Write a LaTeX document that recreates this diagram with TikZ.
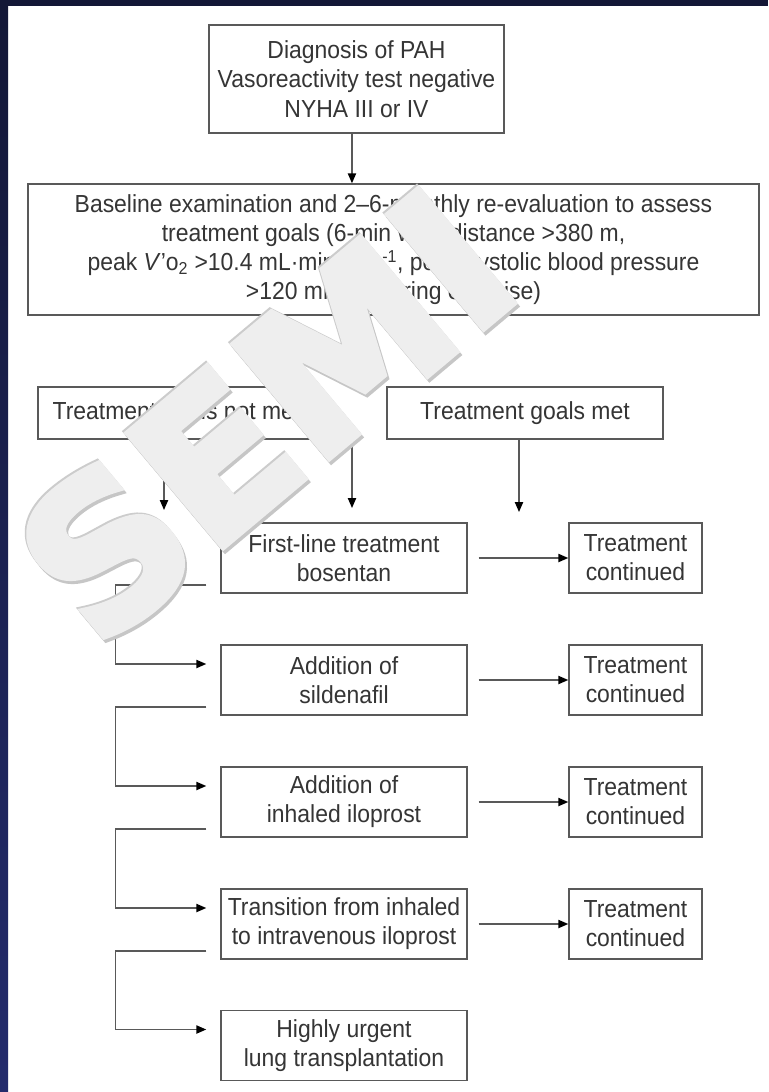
\documentclass[tikz,border=0pt]{standalone}
\usepackage{fontspec}
\setmainfont{Liberation Sans}[FakeStretch=0.93]
\newfontfamily\wmfont{DejaVu Sans}[UprightFeatures={FakeBold=3.5},BoldFeatures={FakeBold=3.5}]
\usetikzlibrary{arrows.meta}
\definecolor{navytop}{HTML}{131736}
\definecolor{navybot}{HTML}{232B6C}
\definecolor{ink}{HTML}{353535}
\definecolor{frame}{HTML}{595959}

\begin{document}
\begin{tikzpicture}[x=0.75pt,y=-0.75pt,
  box/.style={draw=frame, line width=1.1pt, inner sep=0pt, text=ink, align=center,
              font=\fontsize{18.5}{21.9}\selectfont},
  conn/.style={draw=frame, line width=1.1pt,
               -{Triangle[length=7.5pt,width=6.2pt,color=black]}},
  wmark/.style={rotate=40, font=\wmfont\bfseries\fontsize{152}{152}\selectfont}]

% page and frame strips
\useasboundingbox (0,0) rectangle (768,1092);
\fill[white] (0,0) rectangle (768,1092);
\fill[navytop] (0,0) rectangle (768,6);
\shade[top color=navytop, bottom color=navybot] (0,0) rectangle (8,1092);

% header boxes
\node[box, minimum width=221.25pt, minimum height=81pt] (top) at (356.5,79)
  {Diagnosis of PAH\\Vasoreactivity test negative\\NYHA III or IV};
\node[box, minimum width=548.25pt, minimum height=98.25pt] (base) at (393.5,249.5)
  {Baseline examination and 2--6-monthly re-evaluation to assess\\
   treatment goals (6-min walk distance >380 m,\\
   peak \textit{V}'o\textsubscript{2} >10.4 mL·min\textsuperscript{-1}·kg\textsuperscript{-1}, peak systolic blood pressure\\
   >120 mmHg during exercise)};
\node[box, minimum width=207.75pt, minimum height=39pt] (notmet) at (176.5,413)
  {Treatment goals not met};
\node[box, minimum width=207pt, minimum height=39pt] (met) at (525,413)
  {Treatment goals met};

% treatment steps
\tikzset{lbox/.style={box, minimum width=184.5pt, minimum height=52.5pt},
         rbox/.style={box, minimum width=99.75pt, minimum height=52.5pt}}
\node[lbox] (L1) at (344,558)    {First-line treatment\\bosentan};
\node[lbox] (L2) at (344,680)    {Addition of\\sildenafil};
\node[lbox] (L3) at (344,802)    {Addition of\\inhaled iloprost};
\node[lbox] (L4) at (344,924)    {Transition from inhaled\\to intravenous iloprost};
\node[lbox] (L5) at (344,1045.5) {Highly urgent\\lung transplantation};
\node[rbox] (R1) at (635.5,558) {Treatment\\continued};
\node[rbox] (R2) at (635.5,680) {Treatment\\continued};
\node[rbox] (R3) at (635.5,802) {Treatment\\continued};
\node[rbox] (R4) at (635.5,924) {Treatment\\continued};

% free arrow ends
\coordinate (nmEnd)  at (164,510);
\coordinate (midTop) at (352,438);
\coordinate (midEnd) at (352,508);
\coordinate (mEnd)   at (519,512);

% connectors
\draw[conn] ([xshift=-3.4pt]top.south) -- ([xshift=-3.4pt]top.south |- base.north);
\draw[conn] (notmet.south -| nmEnd) -- (nmEnd);
\draw[conn] (midTop) -- (midEnd);
\draw[conn] (met.south -| mEnd) -- (mEnd);

\foreach \i in {1,2,3,4}{
  \draw[conn] ([xshift=8.25pt]L\i.east) -- (R\i.west);
}
\foreach \i/\j in {1/2,2/3,3/4,4/5}{
  \draw[conn] ([shift={(-14,27)}]L\i.west) -- ++(-91,0)
              |- ([shift={(-14,-16)}]L\j.west);
}

% watermark lettering
\node[wmark, text=gray!45] at (267,418) {SEMI};
\node[wmark, text=gray!40] at (263.5,413.5) {SEMI};
\node[wmark, text=gray!13] (wm) at (265,415) {SEMI};
\end{tikzpicture}
\end{document}
